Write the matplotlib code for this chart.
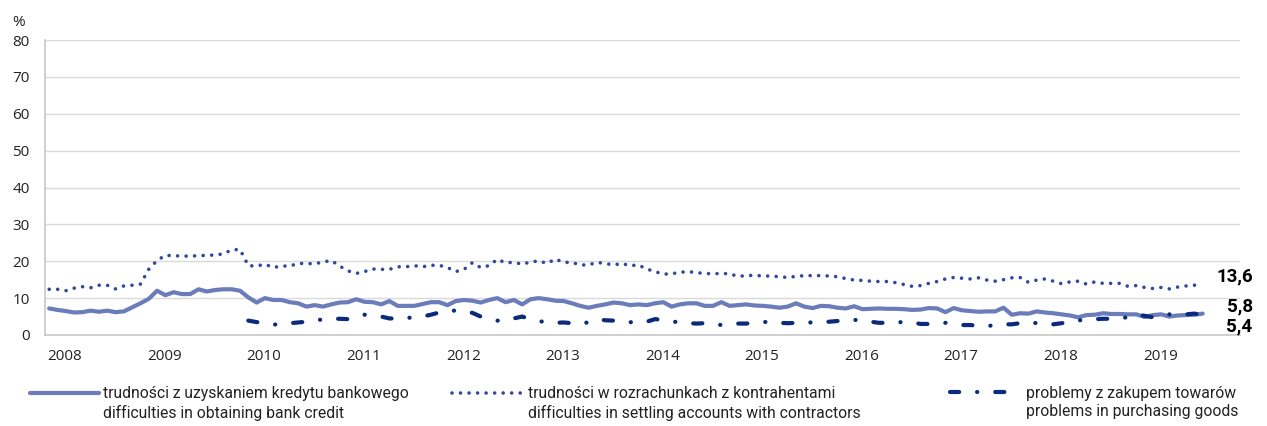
import numpy as np
import matplotlib.pyplot as plt
from matplotlib.legend_handler import HandlerLine2D

# miesięczne dane 2008-01 .. 2019-08
credit = [7.2, 6.8, 6.5, 6.1, 6.2, 6.6, 6.3, 6.6, 6.2, 6.4, 7.5, 8.6,
          9.8, 12.0, 10.8, 11.6, 11.1, 11.1, 12.4, 11.8, 12.2, 12.4, 12.4, 12.0,
          10.2, 8.8, 10.0, 9.5, 9.5, 8.9, 8.6, 7.7, 8.1, 7.7, 8.3, 8.8,
          8.9, 9.7, 9.0, 8.9, 8.3, 9.2, 7.9, 7.9, 7.9, 8.4, 8.9, 8.9,
          8.1, 9.2, 9.5, 9.3, 8.8, 9.5, 10.0, 8.9, 9.5, 8.3, 9.7, 10.0,
          9.7, 9.3, 9.2, 8.6, 7.9, 7.4, 7.9, 8.3, 8.8, 8.6, 8.1, 8.3,
          8.1, 8.6, 8.9, 7.7, 8.3, 8.6, 8.6, 7.9, 7.9, 8.9, 7.9, 8.1,
          8.3, 8.0, 7.9, 7.7, 7.4, 7.7, 8.6, 7.7, 7.3, 7.9, 7.8, 7.4,
          7.2, 7.8, 7.0, 7.1, 7.2, 7.1, 7.1, 7.0, 6.8, 6.9, 7.3, 7.2,
          6.2, 7.3, 6.7, 6.5, 6.3, 6.4, 6.4, 7.4, 5.5, 5.9, 5.8, 6.4,
          6.1, 5.9, 5.6, 5.3, 4.8, 5.4, 5.5, 5.9, 5.7, 5.7, 5.6, 5.6,
          4.9, 5.4, 5.6, 5.0, 5.3, 5.4, 5.5, 5.8]

settlements = [12.4, 12.4, 12.0, 12.7, 13.1, 12.8, 13.5, 13.5, 12.5, 13.3, 13.5, 13.8,
               17.8, 20.2, 21.6, 21.5, 21.4, 21.4, 21.5, 21.6, 21.7, 22.0, 23.1, 23.2,
               18.8, 18.7, 19.2, 18.3, 18.7, 18.7, 19.4, 19.4, 19.3, 19.8, 20.2, 18.7,
               17.4, 16.7, 17.2, 17.9, 17.8, 17.8, 18.5, 18.5, 18.8, 18.5, 18.9, 18.9,
               18.3, 17.2, 17.8, 19.6, 18.3, 18.8, 20.5, 19.6, 19.7, 19.2, 19.8, 20.1,
               19.4, 20.6, 19.7, 19.7, 19.0, 19.0, 19.7, 19.4, 19.0, 19.4, 18.8, 19.0,
               17.9, 17.2, 16.5, 16.6, 17.0, 17.2, 16.9, 16.7, 16.6, 16.7, 16.6, 15.9,
               16.1, 16.2, 16.0, 16.0, 15.8, 15.6, 15.9, 16.1, 16.1, 16.1, 16.0, 15.8,
               15.3, 14.9, 14.8, 14.6, 14.5, 14.5, 14.2, 13.7, 13.2, 13.4, 14.0, 14.5,
               15.2, 15.6, 15.4, 15.2, 15.5, 14.9, 14.6, 15.0, 15.5, 15.6, 14.3, 14.9,
               15.2, 14.6, 13.9, 14.4, 14.6, 13.8, 14.4, 14.0, 14.0, 14.0, 13.2, 13.4,
               12.9, 12.6, 12.9, 12.5, 13.0, 13.3, 13.5, 13.6]

# brak danych przed 2010
goods = [np.nan] * 24 + [
         3.9, 3.5, 3.2, 2.8, 3.0, 3.2, 3.4, 3.6, 4.0, 4.2, 4.4, 4.4,
         4.3, 4.8, 5.5, 5.2, 5.0, 4.5, 4.4, 4.6, 4.8, 5.0, 5.5, 6.1,
         6.6, 6.6, 6.5, 6.0, 5.0, 4.3, 3.9, 3.8, 4.5, 5.0, 4.3, 3.8,
         3.4, 3.3, 3.4, 3.2, 2.9, 3.5, 4.3, 4.0, 3.9, 3.9, 3.5, 3.2,
         3.6, 4.3, 4.1, 3.7, 3.4, 3.2, 3.1, 3.2, 3.0, 2.7, 3.0, 3.1,
         3.1, 3.3, 3.5, 3.6, 3.3, 3.2, 3.3, 3.4, 3.4, 3.5, 3.6, 3.8,
         4.1, 4.1, 4.0, 3.6, 3.3, 3.3, 3.3, 3.6, 3.4, 3.0, 3.0, 3.2,
         3.3, 3.0, 2.7, 2.7, 2.5, 2.4, 2.7, 2.9, 2.9, 3.2, 3.5, 3.2,
         2.9, 2.9, 3.2, 3.5, 3.9, 4.3, 4.3, 4.4, 4.4, 4.6, 4.8, 5.6,
         5.2, 4.8, 5.2, 5.6, 5.6, 5.6, 5.8, 5.4]

years = [str(y) for y in range(2008, 2020)]

labels = ['trudności z uzyskaniem kredytu bankowego\ndifficulties in obtaining bank credit',
          'trudności w rozrachunkach z kontrahentami\ndifficulties in settling accounts with contractors',
          'problemy z zakupem towarów\nproblems in purchasing goods']

c_credit = '#6a7cba'
c_settl = '#34489b'
c_goods = '#0b2a7c'

plt.rcParams['font.family'] = ['Open Sans', 'DejaVu Sans']

W, H = 1267, 426
fig = plt.figure(figsize=(W / 100, H / 100), dpi=100)
ax = fig.add_axes([45 / W, 1 - 335 / H, 1195 / W, 295 / H])

x = np.arange(len(credit))
l1, = ax.plot(x, credit, color=c_credit, lw=3.0, solid_joinstyle='round',
              solid_capstyle='round')
l2, = ax.plot(x, settlements, color=c_settl, lw=2.6, dash_capstyle='round',
              dashes=(0.01, 2.35))
l3, = ax.plot(x, goods, color=c_goods, lw=3.0, dash_capstyle='round',
              dashes=(2.2, 4.3, 0.05, 4.3))

ax.set_xlim(-0.5, 143.5)
ax.set_ylim(0, 80)
ax.set_yticks(range(0, 81, 10))
ax.set_xticks(np.arange(len(years)) * 12 + 1.9)
ax.set_xticklabels(years)
ax.tick_params(axis='both', length=0, labelsize=11, colors='#222222')
ax.tick_params(axis='y', pad=11)
ax.tick_params(axis='x', pad=10)
ax.grid(axis='y', color='#d9d9d9', lw=1)
ax.set_axisbelow(True)
for s in ['top', 'right']:
    ax.spines[s].set_visible(False)
for s in ['left', 'bottom']:
    ax.spines[s].set_color('#c8c8c8')
    ax.spines[s].set_linewidth(1.2)

# wartości na końcu serii
last = len(credit) - 1
for val, dy in [(settlements[-1], 8), (credit[-1], 7), (goods[-1], -11)]:
    ax.annotate(f'{val:.1f}'.replace('.', ','), xy=(last, val),
                xytext=(50, dy), textcoords='offset pixels',
                ha='right', va='center', fontsize=13.5, fontweight='bold',
                family='Roboto', annotation_clip=False)

fig.text(12 / W, 1 - 22 / H, '%', fontsize=11, va='center', color='#222222')


class TopHandler(HandlerLine2D):
    def create_artists(self, legend, orig_handle, xdescent, ydescent,
                       width, height, fontsize, trans):
        arts = super().create_artists(legend, orig_handle, xdescent, ydescent,
                                      width, height, fontsize, trans)
        for a in arts:
            a.set_ydata(np.asarray(a.get_ydata()) + 0.72 * fontsize)
        return arts


# legenda: trzy osobne wpisy rozstawione w poprzek
for line, lab, x0, pad in [(l1, labels[0], 30, 0.25),
                           (l2, labels[1], 452, 0.45),
                           (l3, labels[2], 950, 0.45)]:
    leg = fig.legend([line], [lab], loc='upper left',
                     bbox_to_anchor=(x0 / W, 1 - 386 / H),
                     frameon=False, borderpad=0, borderaxespad=0,
                     handlelength=4.4, handletextpad=pad,
                     prop={'family': 'Roboto', 'size': 11.3},
                     handler_map={line: TopHandler()})
    for t in leg.get_texts():
        t.set_linespacing(1.28)
        t.set_color('#222222')

fig.savefig('out.png', dpi=100)
